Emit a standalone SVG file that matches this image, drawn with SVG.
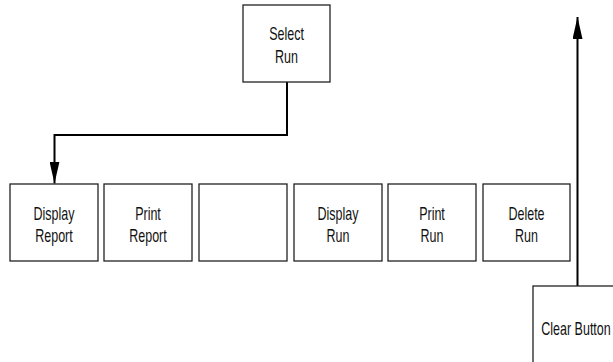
<svg xmlns="http://www.w3.org/2000/svg" width="613" height="362" viewBox="0 0 613 362">
<style>
.box{fill:#fff;stroke:#222;stroke-width:1.3}
.t{font-family:"Liberation Sans",Arial,sans-serif;font-size:12.5px;fill:#111;text-anchor:middle}
.c{fill:none;stroke:#000;stroke-width:2}
</style>
<defs>
<marker id="ah" markerWidth="22" markerHeight="10" refX="22" refY="5" orient="auto" markerUnits="userSpaceOnUse">
<path d="M0,0 L22,5 L0,10 Z" fill="#000"/>
</marker>
</defs>
<rect width="613" height="362" fill="#fff"/>
<g id="connectors">
<path class="c" d="M287,82 V135 H54.5 V183.5" marker-end="url(#ah)"/>
<path class="c" d="M577.5,286 V17" marker-end="url(#ah)"/>
</g>
<g id="select-run">
<rect class="box" x="243" y="5" width="87" height="77"/>
<text class="t" transform="translate(286.5,40) scale(1,1.52)">Select</text>
<text class="t" transform="translate(286.5,63) scale(1,1.52)">Run</text>
</g>
<g id="display-report">
<rect class="box" x="10" y="184" width="88" height="77"/>
<text class="t" transform="translate(54,219.5) scale(1,1.52)">Display</text>
<text class="t" transform="translate(54,241.5) scale(1,1.52)">Report</text>
</g>
<g id="print-report">
<rect class="box" x="104" y="184" width="88" height="77"/>
<text class="t" transform="translate(148,219.5) scale(1,1.52)">Print</text>
<text class="t" transform="translate(148,241.5) scale(1,1.52)">Report</text>
</g>
<g id="blank">
<rect class="box" x="199" y="184" width="88" height="77"/>
</g>
<g id="display-run">
<rect class="box" x="294" y="184" width="88" height="77"/>
<text class="t" transform="translate(338,219.5) scale(1,1.52)">Display</text>
<text class="t" transform="translate(338,241.5) scale(1,1.52)">Run</text>
</g>
<g id="print-run">
<rect class="box" x="388" y="184" width="88" height="77"/>
<text class="t" transform="translate(432,219.5) scale(1,1.52)">Print</text>
<text class="t" transform="translate(432,241.5) scale(1,1.52)">Run</text>
</g>
<g id="delete-run">
<rect class="box" x="483" y="184" width="87" height="77"/>
<text class="t" transform="translate(526.5,219.5) scale(1,1.52)">Delete</text>
<text class="t" transform="translate(526.5,241.5) scale(1,1.52)">Run</text>
</g>
<g id="clear-button">
<rect class="box" x="533" y="286" width="88" height="90"/>
<text class="t" transform="translate(576,335) scale(1,1.52)">Clear Button</text>
</g>
</svg>
